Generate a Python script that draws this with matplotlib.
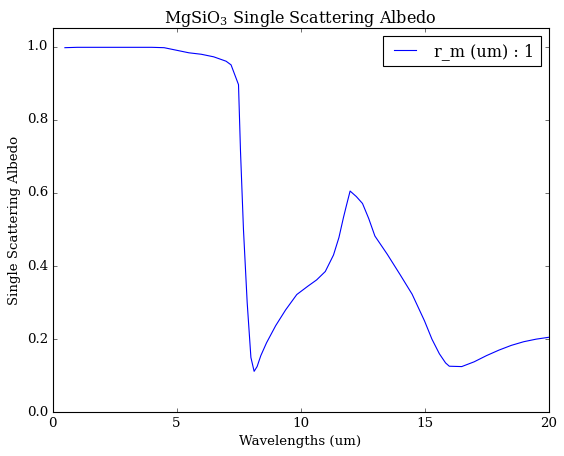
import matplotlib
matplotlib.use('Agg')
import matplotlib.pyplot as plt

# wavelength (um) and single scattering albedo
wavelengths = [0.5, 1.0, 2.0, 3.0, 4.0, 4.5, 5.0, 5.5, 6.0, 6.5, 7.0, 7.2, 7.5,
               7.58, 7.7, 7.85, 8.0, 8.13, 8.25, 8.4, 8.63, 9.0, 9.4, 9.85,
               10.3, 10.65, 11.0, 11.33, 11.55, 11.73, 11.85, 12.0, 12.25,
               12.5, 12.75, 13.0, 13.5, 14.02, 14.5, 15.0, 15.3, 15.6, 15.85,
               16.0, 16.5, 17.0, 17.5, 18.0, 18.5, 19.0, 19.5, 20.0]
albedo = [0.997, 0.998, 0.998, 0.998, 0.998, 0.997, 0.99, 0.983, 0.979, 0.972,
          0.96, 0.95, 0.896, 0.715, 0.5, 0.3, 0.15, 0.112, 0.125, 0.155, 0.19,
          0.237, 0.28, 0.322, 0.345, 0.362, 0.385, 0.43, 0.478, 0.532, 0.565,
          0.605, 0.59, 0.571, 0.53, 0.482, 0.432, 0.376, 0.323, 0.25, 0.2,
          0.16, 0.135, 0.126, 0.125, 0.138, 0.155, 0.17, 0.183, 0.193, 0.2,
          0.205]

plt.style.use('classic')
plt.rcParams['font.family'] = 'serif'
plt.rcParams['font.serif'] = ['DejaVu Serif']
plt.rcParams['mathtext.default'] = 'regular'

W, H = 564, 456
fig = plt.figure(figsize=(W / 80, H / 80), dpi=80)
ax = fig.add_axes([52.5 / W, (H - 412.3) / H, 496 / W, 384 / H])

ax.plot(wavelengths, albedo, color='b', label='r_m (um) : 1')
ax.set_xlim(0, 20)
ax.set_ylim(0, 1.05)
ax.set_xlabel('Wavelengths (um)')
ax.set_ylabel('Single Scattering Albedo')
ax.set_title('MgSiO$_3$ Single Scattering Albedo')
ax.legend(loc='upper right')

fig.savefig('out.png', dpi=80)
